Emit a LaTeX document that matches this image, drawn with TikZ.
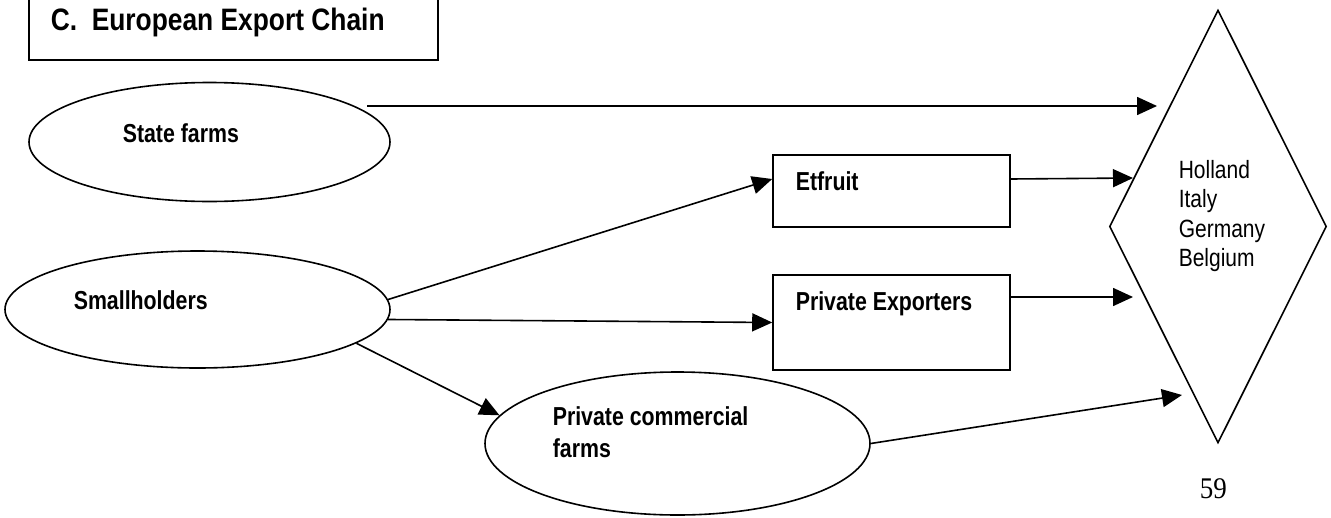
\documentclass[tikz,border=0pt]{standalone}
\usepackage{fontspec}
\usetikzlibrary{shapes.geometric,arrows.meta}
\newfontfamily\labelfont{Liberation Sans}[FakeStretch=0.82]
\newfontfamily\plainfont{Liberation Sans}[FakeStretch=0.84]
\newfontfamily\headfont{Liberation Sans}[FakeStretch=0.85]
\newfontfamily\pagefont{Liberation Serif}[FakeStretch=0.9]
\begin{document}
\begin{tikzpicture}[x=1pt,y=-1pt,
  line width=1.6pt,
  oval/.style={draw,ellipse,inner sep=0pt},
  box/.style={draw,rectangle,inner sep=0pt},
  lbl/.style={anchor=base west,inner sep=0pt,font=\labelfont\bfseries\fontsize{26}{32}\selectfont},
  arr/.style={-{Triangle[length=20pt,width=18pt]}}]
\clip (0,0) rectangle (1331,517);
\fill[white] (0,0) rectangle (1331,517);

% heading box
\node[box,minimum width=409pt,minimum height=80pt] (head) at (233.5,20) {};
\node[anchor=base west,inner sep=0pt,font=\headfont\bfseries\fontsize{31}{36}\selectfont] (headtxt) at (50,30) {C.\ \ European Export Chain};

% producers
\node[oval,minimum width=361pt,minimum height=119pt] (sf) at (209.5,142) {};
\node[lbl] (sftxt) at (122,142) {State farms};
\node[oval,minimum width=385pt,minimum height=117pt] (sh) at (197.5,309.5) {};
\node[lbl] (shtxt) at (73,309) {Smallholders};
\node[oval,minimum width=385pt,minimum height=143pt] (pcf) at (677.5,443.5) {};
% base of a multi-line node sits on its last line
\node[lbl,align=left] (pcftxt) at (552,457) {Private commercial\\farms};

% exporters
\node[box,minimum width=237pt,minimum height=72pt] (ef) at (891.5,191) {};
\node[lbl] (eftxt) at (795,190) {Etfruit};
\node[box,minimum width=237pt,minimum height=95pt] (pe) at (891.5,322.5) {};
\node[lbl] (petxt) at (795,310) {Private Exporters};

% destination markets
\node[draw,diamond,inner sep=0pt,minimum width=217pt,minimum height=433pt] (dest) at (1218,226.5) {};
\node[anchor=base west,inner sep=0pt,align=left,font=\plainfont\fontsize{25}{29.5}\selectfont] (desttxt) at (1178,266.5) {Holland\\Italy\\Germany\\Belgium};

% arrow ends in front of the diamond
\coordinate (sfstart) at (367,106);
\coordinate (inA) at (1157,106);
\coordinate (inB) at (1133,178);
\coordinate (inC) at (1133,297);
\coordinate (inD) at (1182,395);

\draw[arr] (sfstart) -- (inA);
\draw[arr] ([yshift=12pt]ef.east) -- (inB);
\draw[arr] ([yshift=25.5pt]pe.east) -- (inC);
\draw[arr] (pcf.east) -- (inD);
\draw[arr] (sh.3.4) -- ([yshift=12pt]ef.west);
\draw[arr] (sh.-3.7) -- (pe.west);
\draw[arr] (sh.-12.2) -- (pcf.171.6);

% page number
\node[anchor=base west,inner sep=0pt,font=\pagefont\fontsize{30}{36}\selectfont] (pagenum) at (1199,498) {59};
\end{tikzpicture}
\end{document}
